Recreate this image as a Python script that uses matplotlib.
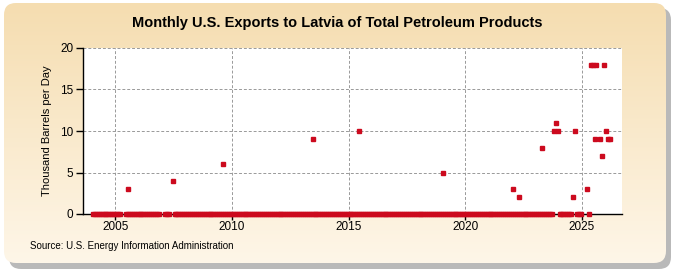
import numpy as np
import matplotlib
matplotlib.use('Agg')
import matplotlib.pyplot as plt
from matplotlib.patches import FancyBboxPatch

# Monthly exports, thousand barrels per day: (year, month, value)
zero_spans = [
    ((2004, 1), (2005, 3)),
    ((2005, 6), (2006, 11)),
    ((2007, 2), (2007, 4)),
    ((2007, 7), (2023, 9)),
    ((2024, 1), (2024, 7)),
    ((2024, 10), (2024, 12)),
    ((2025, 4), (2025, 4)),
]
nonzero_years = [2005, 2007, 2009, 2013, 2015, 2019, 2022, 2022, 2023, 2023, 2023, 2023,
                 2024, 2024, 2025, 2025, 2025, 2025, 2025, 2025, 2025, 2025, 2026, 2026, 2026]
nonzero_months = [7, 6, 8, 6, 6, 1, 1, 4, 4, 10, 11, 12,
                  8, 9, 3, 5, 6, 7, 8, 10, 11, 12, 1, 2, 3]
nonzero_values = [3, 4, 6, 9, 10, 5, 3, 2, 8, 10, 11, 10,
                  2, 10, 3, 18, 18, 9, 18, 9, 7, 18, 10, 9, 9]

x_ticks = [2005, 2010, 2015, 2020, 2025]
y_ticks = [0, 5, 10, 15, 20]


def to_x(y, m):
    return y + (m - 0.5) / 12.0


dates, values = [], []
for (y0, m0), (y1, m1) in zero_spans:
    k = y0 * 12 + m0 - 1
    while k <= y1 * 12 + m1 - 1:
        dates.append(to_x(k // 12, k % 12 + 1))
        values.append(0)
        k += 1
for y, m, v in zip(nonzero_years, nonzero_months, nonzero_values):
    dates.append(to_x(y, m))
    values.append(v)

plt.rcParams['font.family'] = ['Liberation Sans Narrow', 'Liberation Sans', 'DejaVu Sans']

fig = plt.figure(figsize=(6.75, 2.75), dpi=100)
fig.patch.set_facecolor('white')

# background panel with gradient and shadow
bg = fig.add_axes([0, 0, 1, 1])
bg.set_xlim(0, 675)
bg.set_ylim(275, 0)
bg.axis('off')
shadow = FancyBboxPatch((9, 8), 662, 261, boxstyle='round,pad=0,rounding_size=12',
                        facecolor='#a8a8a8', edgecolor='none', alpha=0.8)
bg.add_patch(shadow)
panel = FancyBboxPatch((4, 3), 662, 260, boxstyle='round,pad=0,rounding_size=12',
                       facecolor='none', edgecolor='none')
bg.add_patch(panel)
top = np.array([245, 221, 176]) / 255
bot = np.array([254, 246, 232]) / 255
t = np.linspace(0, 1, 256)[:, None, None]
grad = top * (1 - t) + bot * t
grad = np.repeat(grad, 2, axis=1)
im = bg.imshow(grad, extent=(4, 666, 263, 3), aspect='auto', zorder=1)
im.set_clip_path(panel)

fig.text(0.5, 0.918, 'Monthly U.S. Exports to Latvia of Total Petroleum Products',
         ha='center', va='center', fontsize=10.5, fontweight='bold')
fig.text(0.045, 0.095, 'Source: U.S. Energy Information Administration', fontsize=7)

ax = fig.add_axes([83 / 675, 1 - 214 / 275, (622 - 83) / 675, (214 - 48) / 275])
ax.set_facecolor('white')
ax.plot(dates, values, linestyle='none', marker='s', markersize=2.8,
        color='#cc0a1e', clip_on=False, zorder=3)

ax.set_xlim(2003.62, 2026.72)
ax.set_ylim(0, 20)
ax.set_xticks(x_ticks)
ax.set_yticks(y_ticks)
ax.grid(True, color='#999999', linestyle=(0, (3, 2)), linewidth=0.7)
ax.set_axisbelow(True)
for s in ['top', 'right']:
    ax.spines[s].set_visible(False)
ax.spines['left'].set_linewidth(1)
ax.spines['bottom'].set_linewidth(1)
ax.tick_params(axis='y', length=5, width=1, labelsize=8.5, pad=2)
ax.tick_params(axis='x', length=4, width=1, labelsize=8.5, pad=1)
ax.set_ylabel('Thousand Barrels per Day', fontsize=8, labelpad=6)

fig.savefig('out.png', dpi=100)
